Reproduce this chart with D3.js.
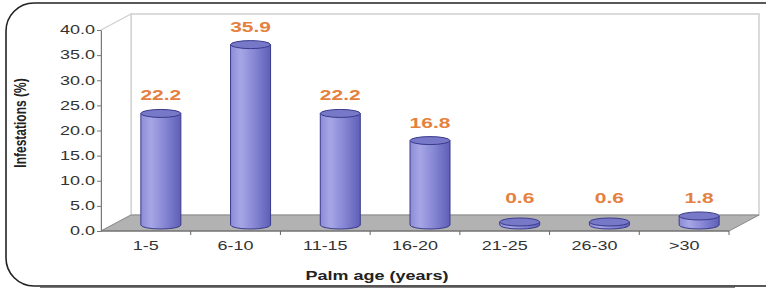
<!DOCTYPE html>
<html lang="en">
<head>
  <meta charset="UTF-8">
  <title>Infestations by palm age</title>
  <style>
    body { margin: 0; padding: 0; background: #fff; }
    svg { display: block; font-family: 'Liberation Sans', Arial, sans-serif; }
    .tick-label { font-size: 12px; fill: #333; }
    .value-label { font-size: 15px; font-weight: bold; fill: #e5813f; }
    .axis-title { font-size: 12px; font-weight: bold; fill: #222; }
  </style>
</head>
<body>
  <svg width="766" height="289"></svg>

  <script src="https://d3js.org/d3.v7.min.js"></script>
  <script>
    const categories = ["1-5", "6-10", "11-15", "16-20", "21-25", "26-30", ">30"];
    const values = [22.2, 35.9, 22.2, 16.8, 0.6, 0.6, 1.8];
    const yTicks = [0, 5, 10, 15, 20, 25, 30, 35, 40];

    const svg = d3.select("svg");

    // the picture is stretched sideways, so text gets scaled too
    const stretch = 1.5;

    // 3d depth of the box
    const depthX = 30, depthY = -16;
    const barShiftX = 15, barShiftY = -6;
    const rx = 20, ry = 4;

    const x = d3.scaleBand().domain(categories).range([101, 729]);
    const y = d3.scaleLinear().domain([0, 40]).range([231, 30]);

    const defs = svg.append("defs");
    const grad = defs.append("linearGradient").attr("id", "cyl")
      .attr("x1", "0%").attr("x2", "100%").attr("y1", "0%").attr("y2", "0%");
    grad.append("stop").attr("offset", "0%").attr("stop-color", "#8c8cd6");
    grad.append("stop").attr("offset", "25%").attr("stop-color", "#a6a6e6");
    grad.append("stop").attr("offset", "60%").attr("stop-color", "#8686d4");
    grad.append("stop").attr("offset", "100%").attr("stop-color", "#5e5eb6");

    // outer frame
    svg.append("rect")
      .attr("x", 6).attr("y", 3).attr("width", 790).attr("height", 283)
      .attr("rx", 28).attr("ry", 28)
      .attr("fill", "none").attr("stroke", "#222").attr("stroke-width", 1.6);
    svg.append("path")
      .attr("d", "M40,286.5 L735,286.5")
      .attr("stroke", "#555").attr("stroke-width", 2.5);

    const y0 = y(0), yTop = y(40);
    const xL = x.range()[0], xR = x.range()[1];

    // back wall
    svg.append("rect")
      .attr("x", xL + depthX).attr("y", yTop + depthY)
      .attr("width", xR - xL).attr("height", y0 - yTop)
      .attr("fill", "#fff").attr("stroke", "#cfcfcf").attr("stroke-width", 1.5);

    // left wall
    svg.append("polygon")
      .attr("points", [[xL, yTop], [xL + depthX, yTop + depthY], [xL + depthX, y0 + depthY], [xL, y0]].join(" "))
      .attr("fill", "#fff").attr("stroke", "#cfcfcf").attr("stroke-width", 1.2);

    // floor
    svg.append("polygon")
      .attr("points", [[xL, y0], [xR, y0], [xR + depthX, y0 + depthY], [xL + depthX, y0 + depthY]].join(" "))
      .attr("fill", "#b2b2b2").attr("stroke", "#8a8a8a").attr("stroke-width", 1);
    svg.append("line")
      .attr("x1", xL).attr("x2", xR).attr("y1", y0).attr("y2", y0)
      .attr("stroke", "#666").attr("stroke-width", 1.2);

    // y axis
    const yAxis = svg.append("g")
      .attr("transform", `translate(${xL},0)`)
      .call(d3.axisLeft(y).tickValues(yTicks).tickFormat(d3.format(".1f")).tickSize(4).tickSizeOuter(0));
    yAxis.select(".domain").attr("stroke", "#777");
    yAxis.selectAll(".tick line").attr("stroke", "#777");
    yAxis.selectAll(".tick text")
      .attr("class", "tick-label")
      .attr("font-family", null).attr("font-size", null)
      .attr("x", -6 / stretch)
      .attr("transform", `scale(${stretch},1)`);

    // x axis, ticks sit on the category borders
    const borders = categories.map(c => x(c)).concat([xR]).slice(1);
    svg.append("g").selectAll("line")
      .data(borders)
      .join("line")
      .attr("x1", d => d).attr("x2", d => d)
      .attr("y1", y0).attr("y2", y0 + 4)
      .attr("stroke", "#666");

    svg.append("g").selectAll("text")
      .data(categories)
      .join("text")
      .attr("class", "tick-label")
      .attr("text-anchor", "middle")
      .attr("transform", d => `translate(${x(d) + x.bandwidth() / 2},250) scale(${stretch},1)`)
      .text(d => d);

    // cylinders
    const bars = svg.append("g").selectAll("g")
      .data(values)
      .join("g");

    const cx = (d, i) => x(categories[i]) + x.bandwidth() / 2 + barShiftX;
    const baseY = y0 + barShiftY;
    const topY = d => y(d) + barShiftY;

    bars.append("path")
      .attr("d", (d, i) => {
        const c = cx(d, i), t = topY(d);
        return `M${c - rx},${t} L${c - rx},${baseY} A${rx},${ry} 0 0 0 ${c + rx},${baseY} L${c + rx},${t} Z`;
      })
      .attr("fill", "url(#cyl)")
      .attr("stroke", "#3a3a8c").attr("stroke-width", 1);

    bars.append("ellipse")
      .attr("cx", cx).attr("cy", topY)
      .attr("rx", rx).attr("ry", ry)
      .attr("fill", "#7878c8")
      .attr("stroke", "#3a3a8c").attr("stroke-width", 1);

    bars.append("text")
      .attr("class", "value-label")
      .attr("text-anchor", "middle")
      .attr("transform", (d, i) => {
        const ly = Math.min(topY(d) - ry - 9, baseY - 22);
        return `translate(${cx(d, i)},${ly}) scale(1.4,1)`;
      })
      .text(d => d.toFixed(1));

    // axis titles
    svg.append("text")
      .attr("class", "axis-title")
      .attr("text-anchor", "middle")
      .attr("transform", `translate(377,280) scale(${stretch},1)`)
      .text("Palm age (years)");

    svg.append("text")
      .attr("class", "axis-title")
      .attr("text-anchor", "middle")
      .attr("transform", "translate(26,123) rotate(-90) scale(1,1.3)")
      .text("Infestations (%)");
  </script>
</body>
</html>
